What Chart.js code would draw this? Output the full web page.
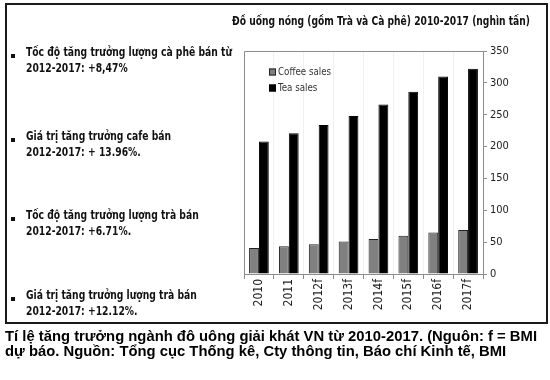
<!DOCTYPE html>
<html>
<head>
<meta charset="utf-8">
<script src="https://cdn.jsdelivr.net/npm/chart.js@4"></script>
<style>
  body { margin: 0; background: #fff; width: 550px; height: 380px; position: relative; overflow: hidden; }
  #frame { position: absolute; left: 5px; top: 3px; width: 539px; height: 317px; border: 2px solid #1a1a1a; }
  #chart { position: absolute; left: 0; top: 0; }
  .t { position: absolute; white-space: nowrap; transform-origin: left center; color: #111; }
  .b { font: bold 12px "DejaVu Sans", sans-serif; line-height: 16px; }
  .dot { position: absolute; width: 4px; height: 4px; background: #111; }
  #title { font: bold 12px "DejaVu Sans", sans-serif; left: 232px; top: 13px; line-height: 16px; }
  .cap { font: bold 15px "Liberation Sans", Arial, sans-serif; left: 5px; line-height: 16px; color: #000; }
</style>
</head>
<body>
<div id="frame"></div>
<canvas id="chart" width="550" height="330"></canvas>
<div id="title" class="t" data-w="298">Đồ uống nóng (gồm Trà và Cà phê) 2010-2017 (nghìn tấn)</div>
<div id="notes"></div>
<div id="c1" class="t cap" style="top:328px">Tí lệ tăng trưởng ngành đô uông giải khát VN từ 2010-2017. (Nguôn: f = BMI</div>
<div id="c2" class="t cap" style="top:343px">dự báo. Nguồn: Tổng cục Thống kê, Cty thông tin, Báo chí Kinh tế, BMI</div>
<script>
// số liệu (nghìn tấn)
const years = ["2010", "2011", "2012f", "2013f", "2014f", "2015f", "2016f", "2017f"];
const coffeeSales = [41, 43.5, 46.5, 51, 55, 60, 65, 69];
const teaSales = [208, 221, 234, 248, 266, 286, 310, 322];
const yTicks = [0, 50, 100, 150, 200, 250, 300, 350];

// ghi chú bên trái
const noteLines = [
  ["Tốc độ tăng trưởng lượng cà phê bán từ", "2012-2017: +8,47%"],
  ["Giá trị tăng trưởng cafe bán", "2012-2017: + 13.96%."],
  ["Tốc độ tăng trưởng lượng trà bán", "2012-2017: +6.71%."],
  ["Giá trị tăng trưởng lượng trà bán", "2012-2017: +12.12%."],
];
const noteTops = [44, 128, 207, 287];

const notes = document.getElementById("notes");
const noteEls = [];
noteLines.forEach((lines, i) => {
  const dot = document.createElement("div");
  dot.className = "dot";
  dot.style.left = "11px";
  dot.style.top = (noteTops[i] + 10) + "px";
  notes.appendChild(dot);
  lines.forEach((txt, j) => {
    const el = document.createElement("div");
    el.className = "t b";
    el.style.left = "26px";
    el.style.top = (noteTops[i] + j * 16) + "px";
    el.textContent = txt;
    notes.appendChild(el);
    noteEls.push(el);
  });
});

// co chữ theo bề rộng trong ảnh gốc
function squeeze(els, refEl, w) {
  const s = w / refEl.getBoundingClientRect().width;
  els.forEach(el => el.style.transform = "scaleX(" + s + ")");
}
squeeze(noteEls, noteEls[0], 206);
const title = document.getElementById("title");
squeeze([title], title, 298);
const c1 = document.getElementById("c1"), c2 = document.getElementById("c2");
squeeze([c1, c2], c1, 532);

const narrow = '"Liberation Sans Narrow", "DejaVu Sans Condensed", "Liberation Sans", sans-serif';

// khung vùng vẽ + chú giải bên trong
const boxAndLegend = {
  id: "boxAndLegend",
  afterDraw(chart) {
    const { ctx, chartArea: a } = chart;
    ctx.save();
    ctx.strokeStyle = "#8c8c8c";
    ctx.lineWidth = 1;
    ctx.beginPath();
    ctx.moveTo(a.left + 0.5, a.bottom);
    ctx.lineTo(a.left + 0.5, a.top + 0.5);
    ctx.lineTo(a.right, a.top + 0.5);
    ctx.stroke();

    ctx.font = "11px " + narrow;
    ctx.textBaseline = "middle";
    chart.data.datasets.forEach((ds, i) => {
      const x = a.left + 25, y = a.top + 21 + i * 16;
      ctx.fillStyle = ds.backgroundColor;
      ctx.fillRect(x, y - 3.5, 7, 7);
      ctx.strokeStyle = ds.borderColor;
      ctx.strokeRect(x + 0.5, y - 3, 6, 6);
      ctx.fillStyle = "#333";
      ctx.save();
      ctx.translate(x + 9, y);
      ctx.scale(0.88, 1);
      ctx.fillText(ds.label, 0, 0);
      ctx.restore();
    });
    ctx.restore();
  }
};

const chart = new Chart(document.getElementById("chart"), {
  type: "bar",
  data: {
    labels: years,
    datasets: [
      { label: "Coffee sales", data: coffeeSales, backgroundColor: "#808080", borderColor: "#222", borderWidth: 1 },
      { label: "Tea sales", data: teaSales, backgroundColor: "#000", borderColor: "#000", borderWidth: 1 },
    ],
  },
  options: {
    responsive: false,
    animation: false,
    layout: { padding: { left: 244, top: 51, right: 27, bottom: 16 } },
    datasets: { bar: { categoryPercentage: 0.66, barPercentage: 1 } },
    scales: {
      x: {
        afterFit: s => { s.height = 40; },
        grid: { color: "#f0f0f0", tickColor: "#8c8c8c", tickLength: 5, offset: true },
        border: { color: "#8c8c8c" },
        ticks: { minRotation: 90, maxRotation: 90, padding: 0, color: "#222", font: { family: narrow, size: 12 } },
      },
      y: {
        position: "right",
        min: 0,
        max: 350,
        afterFit: s => { s.width = 40; },
        afterBuildTicks: s => { s.ticks = yTicks.map(v => ({ value: v })); },
        grid: { drawOnChartArea: false, tickColor: "#8c8c8c", tickLength: 4 },
        border: { color: "#8c8c8c" },
        ticks: { padding: 3, color: "#222", font: { family: narrow, size: 11 } },
      },
    },
    plugins: { legend: { display: false }, tooltip: { enabled: false } },
  },
  plugins: [boxAndLegend],
});
</script>
</body>
</html>
